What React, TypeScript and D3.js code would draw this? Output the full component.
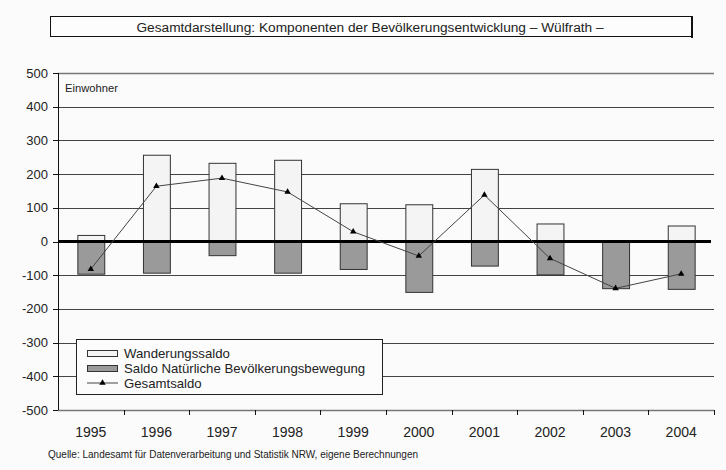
import * as d3 from 'd3'
import { useEffect } from 'react'

const years = ['1995', '1996', '1997', '1998', '1999', '2000', '2001', '2002', '2003', '2004']
// Wanderungssaldo (migration balance)
const wanderung = [18, 256, 232, 241, 112, 109, 214, 52, 0, 46]
// Saldo natürliche Bevölkerungsbewegung (births minus deaths)
const natuerlich = [-97, -94, -42, -94, -83, -151, -73, -99, -140, -142]
// Gesamtsaldo
const gesamt = [-82, 164, 188, 147, 29, -43, 138, -50, -139, -96]
const yTicks = [500, 400, 300, 200, 100, 0, -100, -200, -300, -400, -500]

const legendItems = ['Wanderungssaldo', 'Saldo Natürliche Bevölkerungsbewegung', 'Gesamtsaldo']

const W = 726
const H = 470
const font = '"Liberation Sans", Arial, sans-serif'

export default function App(){
  useEffect(()=>{ document.body.style.margin = '0' }, [])

  const x = d3.scaleBand<string>().domain(years).range([58, 714]).paddingInner(0.59).paddingOuter(0.295)
  const y = d3.scaleLinear().domain([-500, 500]).range([410, 73])
  const step = x.step()
  const bw = x.bandwidth()
  const cx = (yr: string)=> (x(yr) ?? 0) + bw/2
  const bounds = d3.range(years.length + 1).map(i=> 58 + i*step)

  const line = d3.line<number>()
    .x((_, i)=> cx(years[i]))
    .y(d=> y(d))
  const tri = d3.symbol().type(d3.symbolTriangle).size(18)()

  return (
    <svg width={W} height={H} style={{ display:'block', background:'#fbfbfb' }} fontFamily={font}>
      {/* title box */}
      <rect x={50.5} y={16.5} width={641} height={20} fill="#fdfdfd" stroke="#111" strokeWidth={1} />
      <line x1={692} x2={692} y1={16} y2={38} stroke="#111" strokeWidth={2} />
      <text x={370} y={31.5} textAnchor="middle" fontSize={13.7} fill="#222">
        Gesamtdarstellung: Komponenten der Bevölkerungsentwicklung – Wülfrath –
      </text>

      {/* grid */}
      {yTicks.filter(t=> t !== 0).map(t=> (
        <line key={t} x1={58} x2={714} y1={Math.round(y(t)) + 0.5} y2={Math.round(y(t)) + 0.5}
          stroke={t === 500 || t === -500 ? '#777' : '#444'} strokeWidth={t === 500 || t === -500 ? 1.5 : 1} />
      ))}

      {/* y axis */}
      <line x1={58.5} x2={58.5} y1={73} y2={410} stroke="#111" />
      {yTicks.map(t=> (
        <g key={t}>
          <line x1={53} x2={58} y1={Math.round(y(t)) + 0.5} y2={Math.round(y(t)) + 0.5} stroke="#111" />
          <text x={48} y={y(t) + 4.5} textAnchor="end" fontSize={13} fill="#222">{t}</text>
        </g>
      ))}
      <text x={65} y={92} fontSize={11.2} fill="#222">Einwohner</text>

      {/* bars */}
      {years.map((yr, i)=> (
        <g key={yr}>
          {wanderung[i] > 0 && (
            <rect x={(x(yr) ?? 0) + 0.5} y={y(wanderung[i])} width={bw} height={y(0) - y(wanderung[i])}
              fill="#f4f4f4" stroke="#333" strokeWidth={1} />
          )}
          <rect x={(x(yr) ?? 0) + 0.5} y={y(0)} width={bw} height={y(natuerlich[i]) - y(0)}
            fill="#9a9a9a" stroke="#333" strokeWidth={1} />
        </g>
      ))}

      {/* zero line */}
      <line x1={58} x2={711} y1={y(0)} y2={y(0)} stroke="#000" strokeWidth={3} />

      {/* x axis ticks */}
      {bounds.slice(1).map((b, i)=> (
        <line key={i} x1={Math.round(b) + 0.5} x2={Math.round(b) + 0.5} y1={410} y2={415} stroke="#111" />
      ))}
      {years.map(yr=> (
        <text key={yr} x={cx(yr)} y={437} textAnchor="middle" fontSize={14} fill="#222">{yr}</text>
      ))}

      {/* Gesamtsaldo line */}
      <path d={line(gesamt) ?? ''} fill="none" stroke="#444" strokeWidth={1} />
      {gesamt.map((v, i)=> (
        <path key={i} d={tri ?? ''} transform={`translate(${cx(years[i])},${y(v)})`} fill="#000" />
      ))}

      {/* legend */}
      <rect x={76.5} y={339.5} width={306} height={55} fill="#fcfcfc" stroke="#222" />
      <rect x={87.5} y={350.5} width={30} height={6} fill="#f4f4f4" stroke="#333" />
      <rect x={87.5} y={365.5} width={30} height={6} fill="#9a9a9a" stroke="#333" />
      <line x1={87} x2={118} y1={383} y2={383} stroke="#444" />
      <path d={tri ?? ''} transform="translate(102.5,383)" fill="#000" />
      {legendItems.map((t, i)=> (
        <text key={t} x={124} y={358 + i*15} fontSize={13.2} fill="#222">{t}</text>
      ))}

      {/* source */}
      <text x={48} y={458} fontSize={10} fill="#222">
        Quelle: Landesamt für Datenverarbeitung und Statistik NRW, eigene Berechnungen
      </text>
    </svg>
  )
}
